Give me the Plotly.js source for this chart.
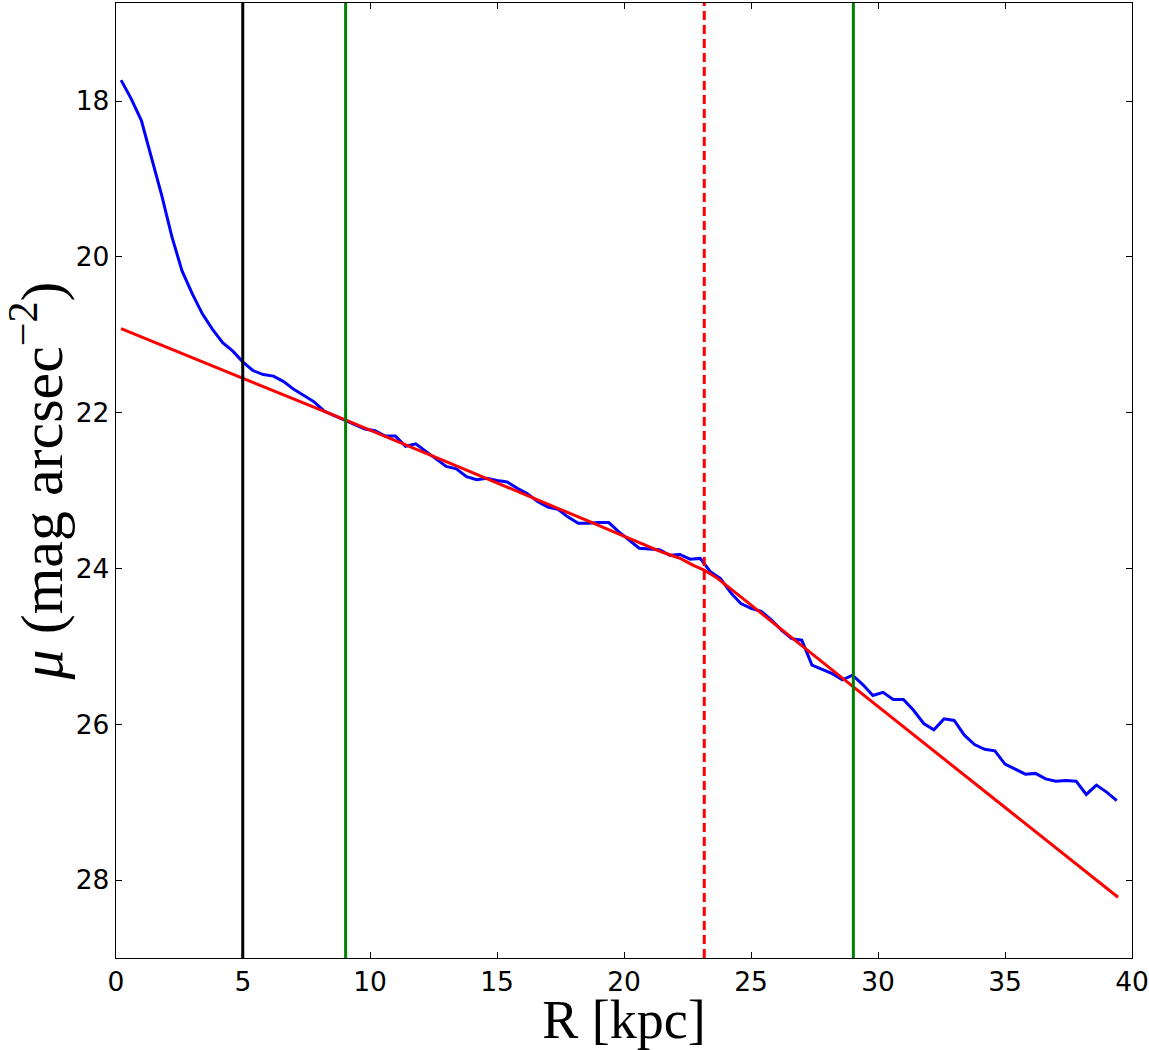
<!DOCTYPE html>
<html>
<head>
<meta charset="utf-8">
<script src="https://cdn.plot.ly/plotly-3.0.1.min.js"></script>
<style>
  html, body { margin: 0; padding: 0; background: #ffffff; }
  #chart { width: 1149px; height: 1050px; }
</style>
</head>
<body>
<div id="chart"></div>
<script>
// Observed surface-brightness profile (blue)
const profileR = [
  0.2, 0.6, 1.0, 1.4, 1.8, 2.2, 2.6, 3.0, 3.4, 3.8,
  4.2, 4.6, 5.0, 5.4, 5.8, 6.2, 6.6, 7.0, 7.4, 7.8,
  8.2, 8.6, 9.0, 9.4, 9.8, 10.2, 10.6, 11.0, 11.4, 11.8,
  12.2, 12.6, 13.0, 13.4, 13.8, 14.2, 14.6, 15.0, 15.4, 15.8,
  16.2, 16.6, 17.0, 17.4, 17.8, 18.2, 18.6, 19.0, 19.4, 19.8,
  20.2, 20.6, 21.0, 21.4, 21.8, 22.2, 22.6, 23.0, 23.4, 23.8,
  24.2, 24.6, 25.0, 25.4, 25.8, 26.2, 26.6, 27.0, 27.4, 27.8,
  28.2, 28.6, 29.0, 29.4, 29.8, 30.2, 30.6, 31.0, 31.4, 31.8,
  32.2, 32.6, 33.0, 33.4, 33.8, 34.2, 34.6, 35.0, 35.4, 35.8,
  36.2, 36.6, 37.0, 37.4, 37.8, 38.2, 38.6, 39.0, 39.4
];
const profileMu = [
  17.73, 17.97, 18.25, 18.72, 19.21, 19.74, 20.18, 20.47, 20.73, 20.93,
  21.10, 21.21, 21.35, 21.46, 21.51, 21.53, 21.60, 21.70, 21.78, 21.86,
  21.98, 22.04, 22.10, 22.15, 22.21, 22.23, 22.30, 22.30, 22.43, 22.40,
  22.50, 22.60, 22.69, 22.72, 22.82, 22.86, 22.84, 22.87, 22.89, 22.97,
  23.04, 23.14, 23.21, 23.24, 23.34, 23.42, 23.42, 23.41, 23.41, 23.53,
  23.63, 23.74, 23.75, 23.76, 23.83, 23.82, 23.88, 23.87, 24.04, 24.13,
  24.31, 24.45, 24.51, 24.55, 24.66, 24.79, 24.90, 24.92, 25.24, 25.29,
  25.35, 25.43, 25.37, 25.49, 25.63, 25.59, 25.68, 25.68, 25.82, 25.99,
  26.07, 25.93, 25.95, 26.14, 26.26, 26.32, 26.34, 26.51, 26.57, 26.64,
  26.63, 26.70, 26.73, 26.72, 26.73, 26.90, 26.78, 26.87, 26.98
];

// Broken-disc model fit (red)
const modelR  = [0.2, 5.0, 9.1, 17.49, 20.11, 21.42, 22.21, 22.73, 23.15, 23.65, 24.04, 25.35, 29.03, 39.45];
const modelMu = [20.92, 21.56, 22.10, 23.24, 23.60, 23.78, 23.87, 23.96, 24.02, 24.12, 24.22, 24.56, 25.52, 28.22];

// Vertical markers
const blackLineR = [4.99];
const greenLinesR = [9.04, 29.03];
const breakLineR = [23.16];

// Axis settings
const xTicks = [0, 5, 10, 15, 20, 25, 30, 35, 40];
const yTicks = [18, 20, 22, 24, 26, 28];
const xRange = [0, 40];
const yRange = [29, 16.74];

const traces = [
  {
    x: profileR, y: profileMu, type: 'scatter', mode: 'lines',
    line: { color: '#0000ff', width: 3 }, hoverinfo: 'skip', showlegend: false
  },
  {
    x: modelR, y: modelMu, type: 'scatter', mode: 'lines',
    line: { color: '#ff0000', width: 3, shape: 'spline', smoothing: 0.6 }, hoverinfo: 'skip', showlegend: false
  }
];

const shapes = [];
blackLineR.forEach(v => shapes.push({
  type: 'line', xref: 'x', yref: 'paper', x0: v, x1: v, y0: 0, y1: 1,
  line: { color: '#000000', width: 3 }
}));
greenLinesR.forEach(v => shapes.push({
  type: 'line', xref: 'x', yref: 'paper', x0: v, x1: v, y0: 0, y1: 1,
  line: { color: '#008000', width: 3 }
}));
breakLineR.forEach(v => shapes.push({
  type: 'line', xref: 'x', yref: 'paper', x0: v, x1: v, y0: 0, y1: 1,
  line: { color: '#ff0000', width: 3, dash: '9px,5px' }
}));

const tickFont = { family: 'DejaVu Sans', size: 26.5, color: '#000000' };
const titleFamily = 'Liberation Serif';

const layout = {
  width: 1149, height: 1050,
  margin: { l: 115.5, r: 16.7, t: 2.5, b: 92, pad: 0 },
  paper_bgcolor: '#ffffff', plot_bgcolor: '#ffffff',
  showlegend: false,
  font: { family: 'DejaVu Sans', color: '#000000' },
  xaxis: {
    range: xRange, tickvals: xTicks, ticktext: xTicks.map(String),
    ticks: 'inside', ticklen: 6, tickwidth: 1, tickcolor: '#000000',
    showgrid: false, zeroline: false,
    showline: true, linecolor: '#000000', linewidth: 1.3, mirror: 'ticks',
    tickfont: tickFont, automargin: false, ticklabeloverflow: 'allow',
    title: { text: 'R [kpc]', font: { family: titleFamily, size: 54, color: '#000000' }, standoff: 5 }
  },
  yaxis: {
    range: yRange, tickvals: yTicks, ticktext: yTicks.map(String),
    ticks: 'inside', ticklen: 6, tickwidth: 1, tickcolor: '#000000',
    showgrid: false, zeroline: false,
    showline: true, linecolor: '#000000', linewidth: 1.3, mirror: 'ticks',
    tickfont: tickFont, automargin: false, ticklabeloverflow: 'allow',
    title: { text: '<i>μ</i> (mag arcsec<sup>−2</sup>)', font: { family: titleFamily, size: 60, color: '#000000' }, standoff: 10 }
  },
  shapes: shapes
};

Plotly.newPlot('chart', traces, layout, { staticPlot: true, displayModeBar: false });
</script>
</body>
</html>
